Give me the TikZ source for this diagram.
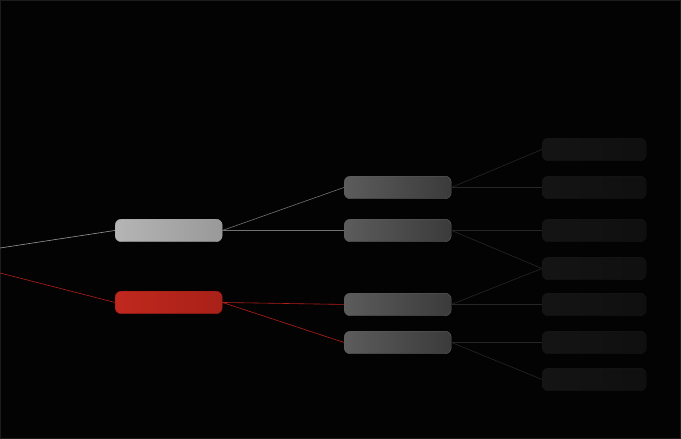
\documentclass[tikz,border=0pt]{standalone}
\begin{document}
\begin{tikzpicture}[x=1pt,y=-1pt,
  box/.style={rounded corners=6pt,minimum width=107pt,minimum height=22.5pt,inner sep=0pt,anchor=north west},
  lone/.style={box,left color=black!29,right color=black!40,draw=black!35,line width=0.4pt},
  lred/.style={box,left color={rgb,255:red,192;green,40;blue,30},right color={rgb,255:red,168;green,33;blue,24},draw={rgb,255:red,160;green,30;blue,22},line width=0.4pt},
  ltwo/.style={box,left color=black!64,right color=black!77,draw=black!62,line width=0.4pt},
  lthree/.style={box,minimum width=104pt,left color=black!92,right color=black!94,draw=black!91,line width=0.4pt},
  gline/.style={draw=black!40,line width=0.6pt},
  rline/.style={draw={rgb,255:red,180;green,30;blue,25},line width=0.6pt},
  mline/.style={draw=black!55,line width=0.6pt},
  dline/.style={draw=black!85,line width=0.6pt}]
\fill[black!99] (0,0) rectangle (681,439);
\draw[black!89,line width=1pt] (0.5,0.5) rectangle (680.5,438.5);
\useasboundingbox (0,0) rectangle (681,439);
% level 1
\node[lone] (g) at (115,219) {};
\node[lred] (r) at (115,291) {};
% level 2
\node[ltwo] (a2) at (344,176) {};
\node[ltwo] (b2) at (344,219) {};
\node[ltwo] (c2) at (344,293) {};
\node[ltwo] (d2) at (344,331) {};
% level 3
\node[lthree] (a3) at (542,138) {};
\node[lthree] (b3) at (542,176) {};
\node[lthree] (c3) at (542,219) {};
\node[lthree] (d3) at (542,257) {};
\node[lthree] (e3) at (542,293) {};
\node[lthree] (f3) at (542,331) {};
\node[lthree] (g3) at (542,368) {};
% free ends
\coordinate (s1) at (0,248);
\coordinate (s2) at (0,273);
% connectors
\draw[gline] (s1) -- (g.west);
\draw[rline] (s2) -- (r.west);
\draw[mline] (g.east) -- (a2.west);
\draw[mline] (g.east) -- (b2.west);
\draw[rline] (r.east) -- (c2.west);
\draw[rline] (r.east) -- (d2.west);
\draw[dline] (a2.east) -- (a3.west);
\draw[dline] (a2.east) -- (b3.west);
\draw[dline] (b2.east) -- (c3.west);
\draw[dline] (b2.east) -- (d3.west);
\draw[dline] (c2.east) -- (d3.west);
\draw[dline] (c2.east) -- (e3.west);
\draw[dline] (d2.east) -- (f3.west);
\draw[dline] (d2.east) -- (g3.west);
\end{tikzpicture}
\end{document}
